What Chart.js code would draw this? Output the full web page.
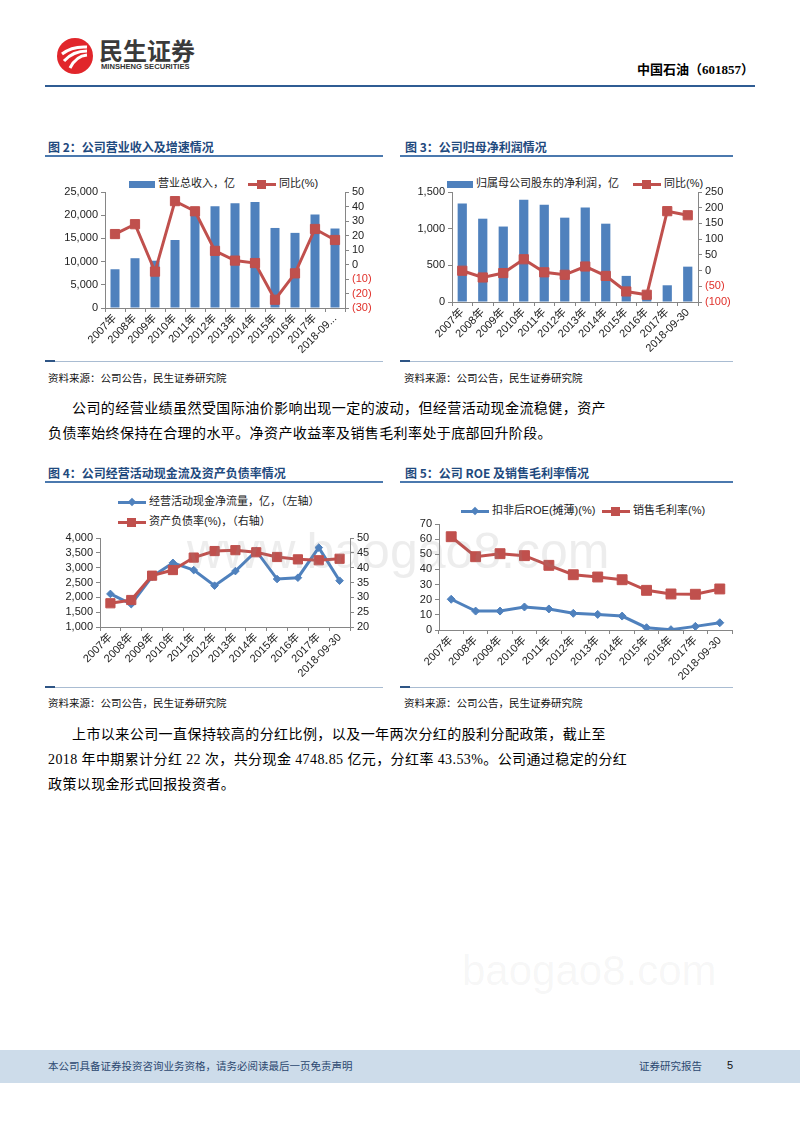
<!DOCTYPE html>
<html>
<head>
<meta charset="utf-8">
<script src="https://cdn.jsdelivr.net/npm/chart.js@4.4.0/dist/chart.umd.min.js"></script>
<style>
body{margin:0;width:800px;height:1132px;position:relative;background:#fff;overflow:hidden;
  font-family:"Noto Sans CJK SC",sans-serif;color:#000}
.a{position:absolute;white-space:nowrap}
.title{font-size:12px;font-weight:bold;color:#1F4A7E;line-height:16px}
.tline{height:2px;background:#4B79AE}
.bline{height:1px;background:#A9BCD2}
.bline i{position:absolute;left:0;top:-1px;width:10px;height:2px;background:#2E5585}
.src{font-size:10.5px;line-height:14px;color:#111}
.para{font-family:"Liberation Serif","Noto Sans CJK SC",serif;font-size:14px;line-height:20px;letter-spacing:.4px}
.just{text-align:justify;text-align-last:justify}
.lg{font-family:"Liberation Sans","Noto Sans CJK SC",sans-serif;font-size:11px;line-height:16px;height:16px;color:#222}
.sw{display:inline-block;width:26px;height:7px;background:#4F81BD;vertical-align:middle}
.li{display:inline-block;position:relative;width:28px;height:3px;vertical-align:middle}
.li i{position:absolute;left:9px;top:-3px;width:9px;height:9px}
.li b{position:absolute;left:11px;top:-2px;width:6px;height:6px;transform:rotate(45deg)}
.wm{font-family:"Liberation Sans",sans-serif;color:rgba(140,140,140,0.16)}
canvas{position:absolute}
</style>
</head>
<body>

<!-- header -->
<svg class="a" style="left:56px;top:37px" width="38" height="38" viewBox="0 0 38 38">
  <circle cx="19" cy="19" r="18" fill="#E1262B"/>
  <path d="M6 17 Q16 9 31 10" stroke="#fff" stroke-width="3" fill="none"/>
  <path d="M8 24 Q17 14 31 14" stroke="#fff" stroke-width="3" fill="none"/>
  <path d="M14 31 Q20 19 31 18" stroke="#fff" stroke-width="3" fill="none"/>
</svg>
<div class="a" style="left:99px;top:37px;font-size:24px;font-weight:bold;color:#3a3a3a;line-height:26px">民生证券</div>
<div class="a" style="left:101px;top:62px;font-family:'Liberation Sans',sans-serif;font-size:7.6px;font-weight:bold;color:#333;line-height:9px">MINSHENG SECURITIES</div>
<div class="a" style="left:637px;top:62px;font-family:'Liberation Serif','Noto Sans CJK SC',serif;font-size:13px;font-weight:bold;line-height:16px">中国石油（601857）</div>
<div class="a" style="left:45px;top:85px;width:710px;height:2px;background:#2F5C93"></div>

<!-- figure titles -->
<div class="a title" style="left:48px;top:139px">图 2：公司营业收入及增速情况</div>
<div class="a tline" style="left:45px;top:155px;width:338px"></div>
<div class="a title" style="left:405px;top:139px">图 3：公司归母净利润情况</div>
<div class="a tline" style="left:400px;top:155px;width:333px"></div>

<!-- legends fig 2 / fig 3 -->
<div class="a lg" style="left:129px;top:175px"><span class="sw"></span> 营业总收入，亿</div>
<div class="a lg" style="left:248px;top:175px"><span class="li" style="background:#C0504D"><i style="background:#C0504D"></i></span> 同比(%)</div>
<div class="a lg" style="left:447px;top:175px"><span class="sw"></span> 归属母公司股东的净利润，亿</div>
<div class="a lg" style="left:633px;top:175px"><span class="li" style="background:#C0504D"><i style="background:#C0504D"></i></span> 同比(%)</div>

<canvas id="c2" width="340" height="180" style="left:45px;top:180px"></canvas>
<canvas id="c3" width="340" height="180" style="left:400px;top:180px"></canvas>

<div class="a bline" style="left:45px;top:361px;width:338px"><i></i></div>
<div class="a bline" style="left:400px;top:361px;width:333px"><i></i></div>
<div class="a src" style="left:48px;top:371px">资料来源：公司公告，民生证券研究院</div>
<div class="a src" style="left:404px;top:371px">资料来源：公司公告，民生证券研究院</div>

<div class="a para just" style="left:72px;top:399px;width:534px">公司的经营业绩虽然受国际油价影响出现一定的波动，但经营活动现金流稳健，资产</div>
<div class="a para" style="left:48px;top:424px">负债率始终保持在合理的水平。净资产收益率及销售毛利率处于底部回升阶段。</div>

<div class="a title" style="left:48px;top:465px">图 4：公司经营活动现金流及资产负债率情况</div>
<div class="a tline" style="left:45px;top:481px;width:338px"></div>
<div class="a title" style="left:405px;top:465px">图 5：公司 ROE 及销售毛利率情况</div>
<div class="a tline" style="left:400px;top:481px;width:333px"></div>

<div class="a lg" style="left:118px;top:493px"><span class="li" style="background:#4F81BD"><b style="background:#4F81BD"></b></span> 经营活动现金净流量，亿，（左轴）</div>
<div class="a lg" style="left:118px;top:513px"><span class="li" style="background:#C0504D"><i style="background:#C0504D"></i></span> 资产负债率(%)，（右轴）</div>
<div class="a lg" style="left:461px;top:502px"><span class="li" style="background:#4F81BD"><b style="background:#4F81BD"></b></span> 扣非后ROE(摊薄)(%)</div>
<div class="a lg" style="left:602px;top:502px"><span class="li" style="background:#C0504D"><i style="background:#C0504D"></i></span> 销售毛利率(%)</div>

<canvas id="c4" width="340" height="162" style="left:45px;top:526px"></canvas>
<canvas id="c5" width="340" height="175" style="left:400px;top:512px"></canvas>

<div class="a wm" style="left:187px;top:522px;font-size:50px;line-height:58px">www.baogao8.com</div>

<div class="a bline" style="left:45px;top:687px;width:338px"><i></i></div>
<div class="a bline" style="left:400px;top:687px;width:333px"><i></i></div>
<div class="a src" style="left:48px;top:696px">资料来源：公司公告，民生证券研究院</div>
<div class="a src" style="left:404px;top:696px">资料来源：公司公告，民生证券研究院</div>

<div class="a para just" style="left:72px;top:725px;width:534px">上市以来公司一直保持较高的分红比例，以及一年两次分红的股利分配政策，截止至</div>
<div class="a para just" style="left:48px;top:750px;width:558px">2018 年中期累计分红 22 次，共分现金 4748.85 亿元，分红率 43.53%。公司通过稳定的分红</div>
<div class="a para" style="left:48px;top:775px">政策以现金形式回报投资者。</div>

<div class="a wm" style="left:462px;top:946px;font-size:42px;line-height:50px;color:rgba(140,140,140,0.07)">baogao8.com</div>

<!-- footer -->
<div class="a" style="left:0;top:1050px;width:800px;height:33px;background:#CDDCEA"></div>
<div class="a" style="left:48px;top:1058px;font-size:10.5px;line-height:15px;color:#2C4870">本公司具备证券投资咨询业务资格，请务必阅读最后一页免责声明</div>
<div class="a" style="left:639px;top:1058px;font-size:10.5px;line-height:15px;color:#2C4870">证券研究报告</div>
<div class="a" style="left:727px;top:1058px;font-family:'Liberation Sans',sans-serif;font-size:11px;line-height:15px;color:#111">5</div>

<script>
var years = ['2007年','2008年','2009年','2010年','2011年','2012年','2013年','2014年','2015年','2016年','2017年'];
var revLabels = years.concat(['2018-09...']);
var periodLabels = years.concat(['2018-09-30']);

// 图2
var revenue = [8350, 10730, 10190, 14650, 20040, 21950, 22580, 22830, 17250, 16190, 20160, 17130];
var revenueYoy = [21.0, 27.8, -4.9, 43.7, 36.7, 9.4, 2.7, 1.0, -24.3, -6.1, 24.5, 16.9];
// 图3
var netProfit = [1342, 1136, 1029, 1396, 1326, 1150, 1290, 1068, 356, 79, 228, 482];
var netProfitYoy = [-0.5, -22, -8, 36, -5.5, -13.5, 13, -17, -66.5, -77, 189, 176];
// 图4
var opCashFlow = [2115, 1770, 2695, 3163, 2918, 2394, 2885, 3565, 2617, 2662, 3677, 2561];
var debtRatio = [28.0, 29.1, 37.3, 39.2, 43.4, 45.6, 45.9, 45.2, 43.6, 42.8, 42.5, 43.0];
// 图5
var roe = [20.3, 12.5, 12.5, 15.2, 13.9, 11.0, 10.3, 9.2, 1.5, 0.2, 2.4, 4.8];
var grossMargin = [61.6, 48.4, 50.4, 49.1, 42.7, 36.5, 35.0, 33.2, 26.2, 23.8, 23.6, 27.1];

var BLUE = '#4F81BD', RED = '#C0504D', NEG = '#E0302A', AX = '#868686';
var FONT = '"Liberation Sans","Noto Sans CJK SC",sans-serif';

function yAxis(pos, w, min, max, step, fmt) {
  return {
    position: pos, min: min, max: max,
    grid: {display: true, drawOnChartArea: false, drawTicks: true, tickLength: 4, color: AX},
    border: {display: true, color: AX},
    ticks: {
      stepSize: step, padding: 3, autoSkip: false, font: {size: 11, family: FONT},
      color: function(c){ return c.tick && c.tick.value < 0 ? NEG : '#222'; },
      callback: fmt
    },
    afterFit: function(s){ s.width = w; }
  };
}
function xAxis(h) {
  return {
    offset: true,
    grid: {display: true, offset: true, drawOnChartArea: false, drawTicks: true, tickLength: 4, color: AX},
    border: {display: true, color: AX},
    ticks: {color: '#222', font: {size: 11, family: FONT}, maxRotation: 45, minRotation: 45, autoSkip: false, padding: 0},
    afterFit: function(s){ s.height = h; }
  };
}
function comma(v){ return v.toLocaleString('en-US'); }
function paren(v){ return v < 0 ? '(' + (-v) + ')' : '' + v; }
function base(pad) {
  return {
    responsive: false, animation: false, devicePixelRatio: 1,
    layout: {padding: pad},
    plugins: {legend: {display: false}, tooltip: {enabled: false}}
  };
}
function barDs(data) {
  return {type: 'bar', data: data, backgroundColor: BLUE, yAxisID: 'y', order: 2,
          barPercentage: 0.5, categoryPercentage: 0.9};
}
function lineDs(data, color, style, r, axis, order) {
  return {type: 'line', data: data, borderColor: color, backgroundColor: color, borderWidth: 3,
          pointStyle: style, pointRadius: r, pointBorderWidth: 1, pointBackgroundColor: color,
          pointBorderColor: color, yAxisID: axis, order: order, tension: 0};
}

var o2 = base({top: 12, right: 0, left: 0, bottom: 0});
o2.scales = {x: xAxis(52), y: yAxis('left', 60, 0, 25000, 5000, comma), y1: yAxis('right', 40, -30, 50, 10, paren)};
new Chart(document.getElementById('c2'), {
  data: {labels: revLabels, datasets: [barDs(revenue), lineDs(revenueYoy, RED, 'rect', 6.5, 'y1', 1)]},
  options: o2
});

var o3 = base({top: 12, right: 0, left: 0, bottom: 0});
o3.scales = {x: xAxis(58), y: yAxis('left', 52, 0, 1500, 500, comma), y1: yAxis('right', 42, -100, 250, 50, paren)};
new Chart(document.getElementById('c3'), {
  data: {labels: periodLabels, datasets: [barDs(netProfit), lineDs(netProfitYoy, RED, 'rect', 6.5, 'y1', 1)]},
  options: o3
});

var o4 = base({top: 12, right: 0, left: 0, bottom: 0});
o4.scales = {x: xAxis(61), y: yAxis('left', 55, 1000, 4000, 500, comma), y1: yAxis('right', 35, 20, 50, 5, paren)};
new Chart(document.getElementById('c4'), {
  type: 'line',
  data: {labels: periodLabels, datasets: [
    lineDs(opCashFlow, BLUE, 'rectRot', 3.8, 'y', 2),
    lineDs(debtRatio, RED, 'rect', 6.5, 'y1', 1)
  ]},
  options: o4
});

var o5 = base({top: 12, right: 7, left: 0, bottom: 0});
o5.scales = {x: xAxis(57), y: yAxis('left', 39, 0, 70, 10, comma)};
new Chart(document.getElementById('c5'), {
  type: 'line',
  data: {labels: periodLabels, datasets: [
    lineDs(roe, BLUE, 'rectRot', 4, 'y', 2),
    lineDs(grossMargin, RED, 'rect', 7, 'y', 1)
  ]},
  options: o5
});
</script>
</body>
</html>
